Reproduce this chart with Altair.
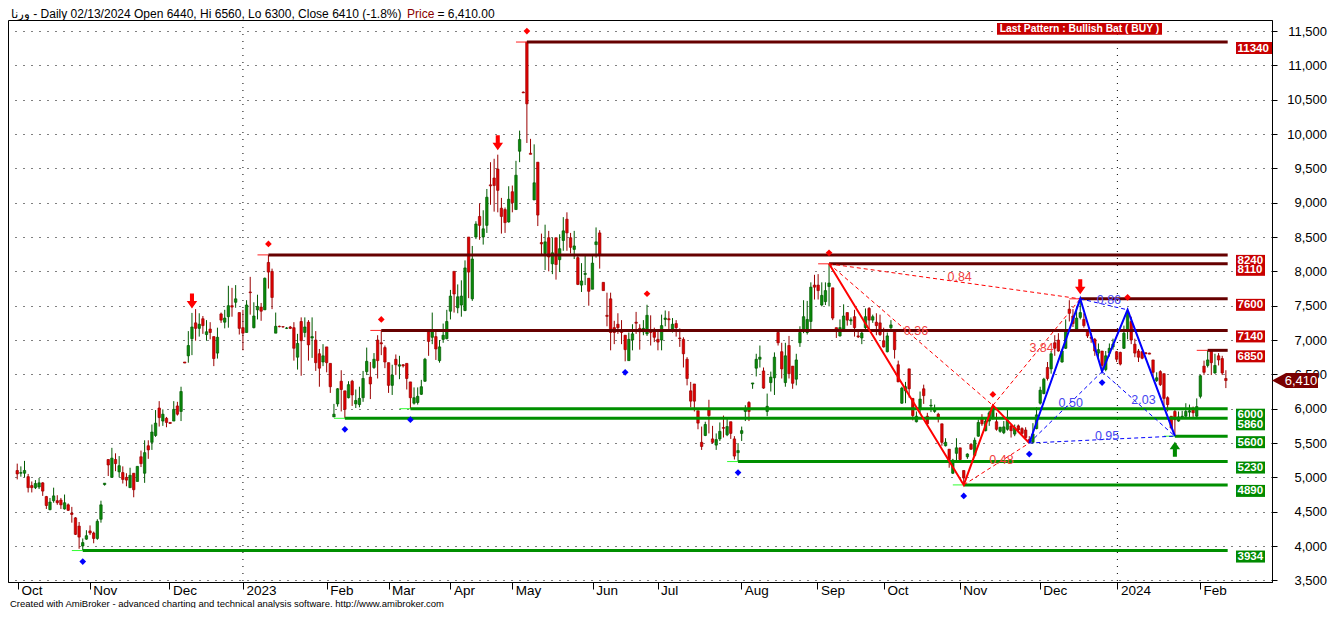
import altair as alt
import pandas as pd

# ---------------- data ----------------
OPEN = [
    5100, 5060, 5060, 5010, 4880, 4850, 4860, 4920, 4720, 4530,
    4660, 4660, 4670, 4540, 4600, 4480, 4410, 4290, 4000, 4100,
    4220, 4190, 4110, 4390, 4895, 5260, 5000, 5260, 5080, 5070,
    5000, 4850, 5060, 4940, 5300, 5060, 5460, 5510, 5610, 6010,
    5820, 5860, 5800, 5820, 6040, 5960, 6680, 6770, 7020, 7250,
    7170, 7310, 7080, 7160, 7050, 6810, 7380, 7260, 7340, 7500,
    7550, 7400, 7180, 7110, 7700, 7180, 7440, 7480, 7440,
    8130, 8000, 7100, 7200, 7195, 7170, 7190, 7180, 6750, 7270,
    7110, 7260, 7030, 7000, 6800, 6680, 6900, 6660, 5880, 6070,
    6400, 6260, 6160, 6400, 6070, 6060, 6160, 6540, 6460, 6600,
    7000, 6960, 6890, 6670, 6340, 6720, 6620, 6640, 6660, 6390,
    6080, 6090, 6210, 6400, 7130, 7040, 7050, 6700, 7010, 7020,
    7420, 8000, 7470, 7510, 7430, 8500, 7600, 8500, 8800, 8500,
    8670, 9260, 9360, 9490, 8920, 8900, 8720, 9160, 8900, 9750,
    10610, 11340, 9720, 9040, 9590, 8420, 8260, 8490, 8110, 8490,
    8170, 8450, 8760, 8490, 8320, 8200, 7800, 7955, 7900, 7740,
    8390, 8560, 7840, 7360, 7600, 7180, 7230, 7125, 7070, 6700,
    7000, 7260, 7170, 7120, 7090, 7130, 7130, 7010, 7000, 7300,
    7310, 7160, 7240, 7030, 7010, 6720, 6260, 6360, 5970, 5510,
    5610, 5990, 5560, 5470, 5560, 5725, 5620, 5810, 5560, 5360,
    5640, 5960, 6090, 6360, 6590, 6720, 6550, 5960,
    6380, 6450, 7110, 6830, 6380, 6920, 6620, 6430, 6960, 7150,
    7110, 7270, 7800, 7800, 7510, 7560, 7780, 7760, 7180, 7060,
    7160, 7400, 7280, 7340, 7060, 7030, 7180, 7460, 7290, 7260,
    7250, 6990, 6830, 7180, 7130, 6640, 6080, 6260, 6580, 6150,
    5810, 5990, 6290, 5890, 6040, 5960, 5920, 5780, 5460, 5410,
    5060, 5350, 5430, 5100, 5300, 5480, 5320, 5600, 5870, 5680,
    5820, 5870, 5810, 5670, 5650, 5700, 5750, 5630, 5750,
    5710, 5690, 5550, 5510, 5710, 6080, 6220, 6600, 6580, 6960,
    7000, 6680, 6880, 7450, 7350, 7160, 7330, 7300, 7130, 7040,
    7010, 6810, 6840, 6570, 6810, 6900, 6830, 6820, 6880, 7150,
    7270, 6940, 6840, 6830, 6815, 6810, 6710, 6410, 6540, 6510,
    6160, 5890, 5960, 5820, 5865, 5890, 5950, 5990, 5890, 6180,
    6620, 6630, 6840, 6520, 6770, 6730, 6440,
]
HIGH = [
    5200, 5160, 5240, 5050, 4940, 4960, 4990, 4930, 4730, 4700,
    4850, 4740, 4700, 4750, 4620, 4570, 4420, 4350, 4110, 4230,
    4300, 4210, 4390, 4660, 4915, 5260, 5430, 5350, 5310, 5160,
    5060, 5140, 5060, 5160, 5390, 5540, 5540, 5770, 5980, 6110,
    5990, 5880, 5800, 6110, 6100, 6320, 6680, 7130, 7395, 7450,
    7390, 7350, 7290, 7260, 7050, 7180, 7400, 7440, 7790, 7760,
    7800, 7400, 7440, 7580, 7920, 7550, 7660, 7540, 7910,
    8240, 8040, 7400, 7210, 7200, 7190, 7205, 7260, 7090, 7330,
    7330, 7290, 7330, 7130, 6870, 6940, 6900, 6660, 6070, 6300,
    6560, 6260, 6400, 6420, 6280, 6320, 6550, 6890, 6680, 6810,
    7070, 7140, 6920, 6670, 6640, 6790, 6770, 6650, 6660, 6390,
    6310, 6310, 6420, 6740, 7160, 7400, 7160, 7000, 7240, 7440,
    7730, 8000, 7810, 7870, 8160, 8500, 8370, 8730, 8990, 8890,
    9200, 9590, 9640, 9700, 9070, 8930, 9240, 9250, 9610, 10050,
    10620, 11340, 9930, 9850, 9590, 8550, 8680, 8590, 8490, 8490,
    8540, 8790, 8860, 8560, 8590, 8230, 8120, 8230, 7900, 8240,
    8640, 8600, 7840, 7690, 7690, 7280, 7390, 7290, 7070, 7110,
    7230, 7410, 7230, 7290, 7514, 7360, 7180, 7130, 7370, 7430,
    7420, 7320, 7290, 7170, 7040, 6750, 6390, 6360, 5970, 5740,
    5810, 6130, 5750, 5640, 5800, 5900, 5850, 5810, 5600, 5500,
    5740, 6050, 6110, 6375, 6800, 6920, 6600, 6220,
    6540, 6820, 7130, 6960, 6960, 7060, 6620, 6800, 7200, 7580,
    7570, 7840, 7950, 7960, 7840, 7840, 8110, 7760, 7180, 7300,
    7520, 7400, 7330, 7440, 7130, 7130, 7460, 7480, 7370, 7390,
    7370, 7180, 7110, 7290, 7130, 6700, 6320, 6390, 6580, 6150,
    5960, 6250, 6350, 5940, 6140, 6060, 5940, 5780, 5570, 5410,
    5270, 5570, 5430, 5100, 5350, 5500, 5580, 5840, 5920, 5870,
    5970, 6048, 5940, 5735, 5820, 5990, 5770, 5770, 5770,
    5730, 5730, 5600, 5790, 6020, 6320, 6450, 6680, 6840, 7070,
    7100, 6870, 7300, 7580, 7450, 7490, 7600, 7390, 7150, 7100,
    7030, 6950, 6840, 6840, 6950, 7020, 6840, 6830, 7210, 7462,
    7340, 7020, 6870, 6840, 6820, 6815, 6710, 6530, 6560, 6510,
    6180, 5890, 5990, 5960, 5970, 6080, 6060, 6030, 6150, 6490,
    6700, 6850, 6860, 6800, 6810, 6770, 6560,
]
LOW = [
    4970, 5010, 5000, 4780, 4780, 4830, 4830, 4730, 4540, 4520,
    4630, 4600, 4540, 4530, 4510, 4340, 4160, 3960, 3934, 4090,
    4160, 4040, 4090, 4340, 4880, 5020, 5000, 5090, 5000, 4910,
    4870, 4850, 4710, 4940, 5150, 4920, 5270, 5400, 5590, 5740,
    5750, 5730, 5785, 5820, 5900, 5820, 6665, 6670, 6780, 6990,
    7050, 7090, 6990, 7010, 6620, 6730, 7250, 7170, 7180, 7340,
    7470, 7080, 6850, 7110, 7370, 7170, 7300, 7280, 7440,
    7750, 7450, 7100, 7185, 7180, 7160, 7160, 6700, 6570, 6480,
    7040, 6700, 6740, 6550, 6320, 6620, 6530, 6230, 5880, 6030,
    5960, 5860, 6150, 6040, 6010, 6020, 6100, 6490, 6140, 6580,
    6440, 6780, 6590, 6230, 6200, 6490, 6430, 6600, 6280, 6000,
    6060, 6060, 6200, 6390, 6770, 6940, 6710, 6670, 6960, 7010,
    7300, 7400, 7390, 7340, 7420, 7610, 7570, 8470, 8460, 8390,
    8560, 8970, 8870, 8860, 8550, 8560, 8710, 8860, 8900, 9590,
    10600, 9870, 9705, 9040, 8660, 8240, 8020, 8000, 7960, 7880,
    7990, 8300, 8300, 8260, 8180, 7800, 7700, 7800, 7500, 7740,
    8200, 8040, 7720, 7200, 6850, 6940, 7090, 6940, 6690, 6700,
    6850, 7090, 6860, 7070, 7060, 6920, 6970, 6850, 6850, 7200,
    7160, 7110, 7050, 6900, 6600, 6340, 6020, 5960, 5700, 5400,
    5600, 5640, 5490, 5400, 5530, 5580, 5600, 5560, 5260, 5230,
    5530, 5820, 5820, 6290, 6470, 6600, 6290, 5890,
    6250, 6200, 6920, 6440, 6320, 6440, 6290, 6340, 6900, 7100,
    7080, 7130, 7590, 7590, 7490, 7510, 7490, 7290, 7030, 7050,
    7150, 7210, 7220, 7050, 7030, 6940, 7130, 7150, 7250, 7070,
    7060, 6890, 6820, 7140, 6730, 6390, 6070, 6080, 6160, 5830,
    5800, 5940, 6070, 5770, 5950, 5940, 5800, 5460, 5450, 5140,
    5050, 5250, 5250, 4890, 5270, 5400, 5300, 5590, 5750, 5670,
    5750, 5840, 5680, 5650, 5630, 5680, 5580, 5600, 5650,
    5620, 5560, 5500, 5490, 5700, 6060, 6210, 6410, 6510, 6770,
    6830, 6670, 6870, 7270, 7190, 7150, 7300, 7180, 7030, 6960,
    6770, 6710, 6540, 6545, 6760, 6860, 6680, 6630, 6870, 7010,
    6940, 6750, 6680, 6720, 6800, 6795, 6460, 6390, 6330, 6020,
    5960, 5700, 5600, 5810, 5855, 5880, 5880, 5880, 5880, 6150,
    6490, 6600, 6490, 6510, 6630, 6490, 6300,
]
CLOSE = [
    5050, 5070, 5100, 4850, 4850, 4910, 4920, 4800, 4590, 4640,
    4730, 4630, 4600, 4630, 4520, 4460, 4170, 4130, 4050, 4150,
    4190, 4110, 4360, 4600, 4915, 5180, 5280, 5200, 5170, 4970,
    4960, 5030, 4820, 5160, 5200, 5360, 5400, 5660, 5790, 5870,
    5920, 5800, 5785, 5990, 5920, 6250, 6665, 6920, 7190, 7170,
    7230, 7210, 7120, 7110, 6730, 7040, 7290, 7320, 7500, 7480,
    7600, 7170, 7100, 7510, 7690, 7350, 7490, 7420, 7900,
    7990, 7620, 7200, 7195, 7190, 7175, 7170, 6880, 6950, 6990,
    7190, 6930, 7050, 6670, 6590, 6770, 6670, 6320, 5920, 6290,
    6280, 5990, 6350, 6200, 6120, 6150, 6440, 6690, 6360, 6720,
    6700, 6945, 6680, 6340, 6490, 6640, 6640, 6625, 6440, 6160,
    6160, 6180, 6320, 6720, 6980, 7130, 6870, 6900, 7070, 7270,
    7640, 7670, 7630, 7640, 8050, 7990, 8180, 8690, 8670, 8620,
    9080, 9245, 9250, 9180, 8800, 8710, 9050, 9000, 9400, 9920,
    10600, 10440, 9705, 9290, 8820, 8400, 8430, 8210, 8270, 8100,
    8330, 8590, 8560, 8350, 8370, 7810, 7860, 7970, 7710, 8120,
    8430, 8250, 7720, 7345, 7110, 7110, 7180, 7110, 6860, 7010,
    7090, 7245, 7120, 7170, 7360, 7110, 7040, 6970, 7210, 7320,
    7295, 7230, 7180, 7020, 6800, 6440, 6110, 6110, 5790, 5450,
    5770, 5900, 5510, 5550, 5670, 5715, 5740, 5640, 5310, 5390,
    5680, 5990, 5960, 6375, 6720, 6750, 6300, 6035,
    6460, 6750, 6960, 6580, 6770, 6510, 6370, 6710, 7110, 7340,
    7300, 7770, 7770, 7720, 7650, 7720, 7830, 7320, 7140, 7180,
    7350, 7290, 7295, 7180, 7045, 7100, 7340, 7290, 7340, 7210,
    7080, 6900, 7060, 7220, 6860, 6390, 6300, 6320, 6290, 5900,
    5890, 6140, 6190, 5780, 6050, 5980, 5870, 5510, 5510, 5260,
    5250, 5430, 5260, 4990, 5340, 5410, 5540, 5800, 5780, 5820,
    5940, 6030, 5700, 5730, 5735, 5830, 5680, 5720, 5690,
    5640, 5580, 5510, 5630, 5910, 6270, 6430, 6440, 6800, 6880,
    6840, 6840, 7130, 7390, 7240, 7320, 7400, 7210, 7060, 7025,
    6840, 6860, 6630, 6770, 6880, 6940, 6720, 6650, 7100, 7410,
    7000, 6810, 6750, 6735, 6800, 6795, 6530, 6450, 6350, 6150,
    6060, 5720, 5840, 5880, 5890, 5960, 5970, 5940, 6030, 6480,
    6530, 6710, 6670, 6630, 6710, 6520, 6410,
]

MONTH_POS = [0.2, 19.9, 41.8, 62.0, 85.0, 102.0, 119.0, 136.0, 158.1,
             175.9, 198.9, 219.8, 238.1, 258.9, 280.9, 302.2, 324.9]
MONTH_LBL = ["Oct", "Nov", "Dec", "2023", "Feb", "Mar", "Apr", "May", "Jun",
             "Jul", "Aug", "Sep", "Oct", "Nov", "Dec", "2024", "Feb"]
YEAR_POS = [62.0, 302.2]
Y_TICKS = [3500, 4000, 4500, 5000, 5500, 6000, 6500, 7000, 7500, 8000,
           8500, 9000, 9500, 10000, 10500, 11000, 11500]

LEVEL_PRICE = [11340, 8240, 8110, 7600, 7140, 6850, 6000, 5860, 5600, 5230, 4890, 3934]
LEVEL_START = [140, 69, 223, 292, 100, 327, 108, 90, 318, 198, 260, 18]

TROUGH_IDX = [18, 90, 108, 167, 198, 260, 278, 298]
PEAK_IDX = [69, 100, 140, 173, 223, 268, 305]
SELL_IDX = [48, 132, 292]
BUY_IDX = [318]

RED_PAT_IDX = [223, 260, 268, 278, 292]
RED_PAT_PX = [8110, 4890, 6048, 5500, 7600]
RED_RATIO = ["0.36", "0.84", "0.48", "3.84"]
BLUE_PAT_IDX = [278, 292, 298, 305, 318]
BLUE_PAT_PX = [5500, 7600, 6540, 7440, 5600]
BLUE_RATIO = ["0.50", "0.86", "2.03", "0.95"]

TITLE_TXT = "ورنا - Daily 02/13/2024 Open %d, Hi %d, Lo %d, Close %d (-1.8%%)" % (
    OPEN[-1], HIGH[-1], LOW[-1], CLOSE[-1])
PATTERN_TXT = "Last Pattern : Bullish Bat ( BUY )"
FOOTER_TXT = ("Created with AmiBroker - advanced charting and technical analysis "
              "software. http://www.amibroker.com")

# ---------------- layout / style ----------------
W, H = 1264, 562
FONT = "Liberation Sans"
RED_FILL, RED_LINE = "#E00000", "#9A0000"
GRN_FILL, GRN_LINE = "#0A8A0A", "#005A00"
RES_COL, SUP_COL = "#660000", "#008F00"
UNIT = 50.0            # pixels per path unit for custom symbols
SYM_SIZE = (2 * UNIT) ** 2

N = len(CLOSE)
up = [c >= o for o, c in zip(OPEN, CLOSE)]
candles = pd.DataFrame({
    "i": list(range(N)), "o": OPEN, "h": HIGH, "l": LOW, "c": CLOSE,
    "fill": [GRN_FILL if u else RED_FILL for u in up],
    "line": [GRN_LINE if u else RED_LINE for u in up],
})

xs = alt.Scale(domain=[-1.16, 343.3], nice=False, zero=False)
ys = alt.Scale(domain=[3476, 11661], nice=False, zero=False)

month_expr = "[%s][indexof([%s], datum.value)]" % (
    ",".join("'%s'" % m for m in MONTH_LBL), ",".join(repr(p) for p in MONTH_POS))

x_axis = alt.Axis(values=MONTH_POS, labelExpr=month_expr, orient="bottom", grid=False,
                  domainColor="black", tickColor="black", tickSize=7, labelAlign="left",
                  labelOffset=3, labelBaseline="middle", labelPadding=1.5, labelFont=FONT,
                  labelFontSize=13.5, labelColor="black", labelFlush=False,
                  labelOverlap=False, title=None)
y_axis = alt.Axis(values=Y_TICKS, format=",d", orient="right", grid=True, gridDash=[1, 7],
                  gridColor="black", gridOpacity=1, gridWidth=1, tickSize=5,
                  tickColor="black", domainColor="black", labelAlign="right",
                  labelPadding=49.5, labelFont=FONT, labelFontSize=13, labelColor="black",
                  labelBaseline="middle", labelOverlap=False, labelFlush=False, title=None)


def X(f):
    return alt.X(f, type="quantitative", scale=xs, axis=x_axis, title=None)


def Y(f):
    return alt.Y(f, type="quantitative", scale=ys, axis=y_axis, title=None)


def box_path(wpx, hpx, x0=0.0):
    a, b, c = x0 / UNIT, (x0 + wpx) / UNIT, hpx / UNIT
    return "M%.4f,0L%.4f,0L%.4f,%.4fL%.4f,%.4fZ" % (a, b, b, c, a, c)


layers = []

# year separators
years = pd.DataFrame({"i": YEAR_POS})
layers.append(alt.Chart(years).mark_rule(color="black", strokeDash=[1, 6], strokeWidth=1)
              .encode(x=X("i")))

# candles
layers.append(alt.Chart(candles).mark_rule(strokeWidth=1).encode(
    x=X("i"), y=Y("l"), y2=alt.Y2("h"), color=alt.Color("line:N", scale=None)))
layers.append(alt.Chart(candles).mark_bar(size=2.4, strokeWidth=0.7).encode(
    x=X("i"), y=Y("o"), y2=alt.Y2("c"),
    fill=alt.Fill("fill:N", scale=None), stroke=alt.Stroke("line:N", scale=None)))

# support / resistance levels
lv = pd.DataFrame({
    "p": LEVEL_PRICE, "s": LEVEL_START,
    "s0": [s - 3 for s in LEVEL_START],
    "e": [N - 0.5] * len(LEVEL_PRICE),
    "col": [RES_COL if p >= 6850 else SUP_COL for p in LEVEL_PRICE],
    "thin": ["#FF2020" if p >= 6850 else "#30FF30" for p in LEVEL_PRICE],
    "bg": ["#C80000" if p >= 6850 else "#008A00" for p in LEVEL_PRICE],
    "txt": [str(p) for p in LEVEL_PRICE],
})
lv["shape"] = [box_path(7 * len(t) + 1, 12) for t in lv["txt"]]
layers.append(alt.Chart(lv).mark_rule(strokeWidth=1).encode(
    x=X("s0"), x2=alt.X2("s"), y=Y("p"), color=alt.Color("thin:N", scale=None)))
layers.append(alt.Chart(lv).mark_rule(strokeWidth=3).encode(
    x=X("s"), x2=alt.X2("e"), y=Y("p"), color=alt.Color("col:N", scale=None)))


# harmonic patterns
def seg_rows(pidx, ppx, pairs, name):
    rows = []
    for k, (a, b) in enumerate(pairs):
        rows.append({"seg": name + str(k), "i": pidx[a], "p": ppx[a], "ord": 0})
        rows.append({"seg": name + str(k), "i": pidx[b], "p": ppx[b], "ord": 1})
    return rows


def mid_rows(pidx, ppx, pairs, texts):
    return [{"i": (pidx[a] + pidx[b]) / 2, "p": (ppx[a] + ppx[b]) / 2, "t": t}
            for (a, b), t in zip(pairs, texts)]


red_pairs = [(0, 2), (0, 4), (1, 3), (2, 4)]
blue_pairs = [(0, 2), (1, 3), (2, 4), (0, 4)]
red_solid = pd.DataFrame({"i": RED_PAT_IDX[:4], "p": RED_PAT_PX[:4], "ord": [0, 1, 2, 3]})
blue_solid = pd.DataFrame({"i": BLUE_PAT_IDX, "p": BLUE_PAT_PX, "ord": [0, 1, 2, 3, 4]})
red_dash = pd.DataFrame(seg_rows(RED_PAT_IDX, RED_PAT_PX, red_pairs, "r"))
blue_dash = pd.DataFrame(seg_rows(BLUE_PAT_IDX, BLUE_PAT_PX, blue_pairs, "b"))
red_lbl = pd.DataFrame(mid_rows(RED_PAT_IDX, RED_PAT_PX, red_pairs, RED_RATIO))
blue_lbl = pd.DataFrame(mid_rows(BLUE_PAT_IDX, BLUE_PAT_PX, blue_pairs, BLUE_RATIO))

layers.append(alt.Chart(red_dash).mark_line(color="#FF0000", strokeWidth=1, strokeDash=[4, 3])
              .encode(x=X("i"), y=Y("p"), detail="seg:N", order="ord:Q"))
layers.append(alt.Chart(blue_dash).mark_line(color="#0000FF", strokeWidth=1, strokeDash=[4, 3])
              .encode(x=X("i"), y=Y("p"), detail="seg:N", order="ord:Q"))
layers.append(alt.Chart(red_solid).mark_line(color="#FF0000", strokeWidth=2)
              .encode(x=X("i"), y=Y("p"), order="ord:Q"))
layers.append(alt.Chart(blue_solid).mark_line(color="#0000FF", strokeWidth=2)
              .encode(x=X("i"), y=Y("p"), order="ord:Q"))
layers.append(alt.Chart(red_lbl).mark_text(color="#F04040", font=FONT, fontSize=12.5, dx=5, dy=-4)
              .encode(x=X("i"), y=Y("p"), text="t:N"))
layers.append(alt.Chart(blue_lbl).mark_text(color="#4646F0", font=FONT, fontSize=12.5, dx=5, dy=-4)
              .encode(x=X("i"), y=Y("p"), text="t:N"))

# swing markers
troughs = pd.DataFrame({"i": TROUGH_IDX, "p": [LOW[k] for k in TROUGH_IDX]})
peaks = pd.DataFrame({"i": PEAK_IDX, "p": [HIGH[k] for k in PEAK_IDX]})
sells = pd.DataFrame({"i": SELL_IDX, "p": [HIGH[k] for k in SELL_IDX]})
buys = pd.DataFrame({"i": BUY_IDX, "p": [LOW[k] for k in BUY_IDX]})
DOWN_ARROW = "M-0.27,-1L0.27,-1L0.27,0L0.7,0L0,1L-0.7,0L-0.27,0Z"
UP_ARROW = "M-0.27,1L0.27,1L0.27,0L0.7,0L0,-1L-0.7,0L-0.27,0Z"
layers.append(alt.Chart(troughs).mark_point(shape="diamond", filled=True, size=45, opacity=1,
                                            color="#0000FF", yOffset=11)
              .encode(x=X("i"), y=Y("p")))
layers.append(alt.Chart(peaks).mark_point(shape="diamond", filled=True, size=45, opacity=1,
                                          color="#FF0000", yOffset=-11)
              .encode(x=X("i"), y=Y("p")))
layers.append(alt.Chart(sells).mark_point(shape=DOWN_ARROW, filled=True, size=225, opacity=1,
                                          color="#FF0000", yOffset=-12)
              .encode(x=X("i"), y=Y("p")))
layers.append(alt.Chart(buys).mark_point(shape=UP_ARROW, filled=True, size=225, opacity=1,
                                         color="#008A00", yOffset=13)
              .encode(x=X("i"), y=Y("p")))

# level label boxes on the right
layers.append(alt.Chart(lv).mark_point(filled=True, size=SYM_SIZE, opacity=1, strokeWidth=0)
              .encode(x=alt.value(1228), y=Y("p"), shape=alt.Shape("shape:N", scale=None),
                      color=alt.Color("bg:N", scale=None)))
layers.append(alt.Chart(lv).mark_text(color="white", font=FONT, fontSize=11.5, fontWeight="bold",
                                      align="left", baseline="middle", dy=6.5)
              .encode(x=alt.value(1229.5), y=Y("p"), text="txt:N"))

# last price tag
tag = pd.DataFrame({"p": [CLOSE[-1]], "t": ["{:,}".format(CLOSE[-1])]})
TAG_PATH = "M0,0L%.4f,%.4fL%.4f,%.4fL%.4f,%.4fL%.4f,%.4fZ" % (
    14 / UNIT, -7.5 / UNIT, 46 / UNIT, -7.5 / UNIT, 46 / UNIT, 7.5 / UNIT, 14 / UNIT, 7.5 / UNIT)
layers.append(alt.Chart(tag).mark_point(shape=TAG_PATH, filled=True, size=SYM_SIZE, opacity=1,
                                        color="#7A0000", strokeWidth=0)
              .encode(x=alt.value(W), y=Y("p")))
layers.append(alt.Chart(tag).mark_text(color="white", font=FONT, fontSize=13, align="center",
                                       baseline="middle")
              .encode(x=alt.value(W + 29), y=Y("p"), text="t:N"))

# texts around the chart
one = pd.DataFrame({"k": [0]})
layers.append(alt.Chart(one).mark_rect(color="#C80000")
              .encode(x=alt.value(989), x2=alt.value(1154), y=alt.value(3), y2=alt.value(14.7)))
layers.append(alt.Chart(one).mark_text(color="white", font=FONT, fontSize=10.3, fontWeight="bold",
                                       align="center", baseline="middle")
              .encode(x=alt.value(1071.5), y=alt.value(9), text=alt.value(PATTERN_TXT)))
layers.append(alt.Chart(one).mark_text(color="black", font=FONT, fontSize=12, align="right",
                                       baseline="middle")
              .encode(x=alt.value(393.5), y=alt.value(-6), text=alt.value(TITLE_TXT)))
layers.append(alt.Chart(one).mark_text(color="#8B0000", font=FONT, fontSize=12, align="left",
                                       baseline="middle")
              .encode(x=alt.value(399), y=alt.value(-6), text=alt.value("Price")))
layers.append(alt.Chart(one).mark_text(color="black", font=FONT, fontSize=12, align="left",
                                       baseline="middle")
              .encode(x=alt.value(429.5), y=alt.value(-6),
                      text=alt.value("= {:,.2f}".format(CLOSE[-1]))))
layers.append(alt.Chart(one).mark_text(color="black", font=FONT, fontSize=9.5, align="left",
                                       baseline="middle")
              .encode(x=alt.value(2), y=alt.value(583.5), text=alt.value(FOOTER_TXT)))

chart = (
    alt.layer(*layers)
    .properties(width=W, height=H,
                padding={"left": 0, "top": 12, "right": 56, "bottom": 26},
                autosize=alt.AutoSizeParams(type="none"), background="white")
    .configure_view(stroke="black", strokeWidth=1)
)

chart.save("out.html", embed_options={"renderer": "svg", "actions": False})
